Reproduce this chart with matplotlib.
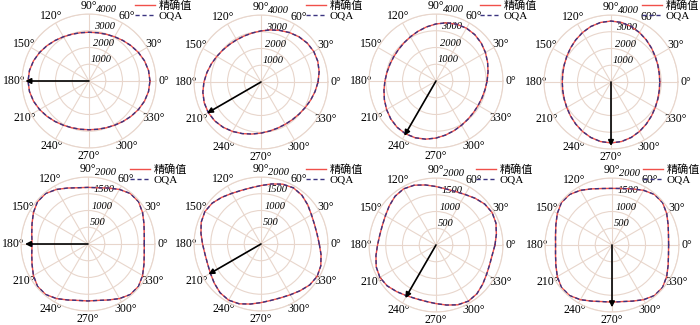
import numpy as np
import matplotlib
matplotlib.use("Agg")
import matplotlib.pyplot as plt

plt.rcParams["font.family"] = ["Liberation Serif", "Noto Sans CJK SC"]
plt.rcParams["axes.unicode_minus"] = False

# polar samples every 10 deg (0..350)
theta_deg = np.arange(0, 360, 10)

# top row (rmax 4000): elongated along the arrow direction
r_exact_a = [3640, 3609, 3525, 3407, 3278, 3155, 3051, 2973, 2926, 2910, 2926, 2973,
             3051, 3155, 3278, 3407, 3525, 3609, 3640, 3609, 3525, 3407, 3278, 3155,
             3051, 2973, 2926, 2910, 2926, 2973, 3051, 3155, 3278, 3407, 3525, 3609]
r_exact_b = [3407, 3525, 3609, 3640, 3609, 3525, 3407, 3278, 3155, 3051, 2973, 2926,
             2910, 2926, 2973, 3051, 3155, 3278, 3407, 3525, 3609, 3640, 3609, 3525,
             3407, 3278, 3155, 3051, 2973, 2926, 2910, 2926, 2973, 3051, 3155, 3278]
r_exact_c = [3051, 3155, 3278, 3407, 3525, 3609, 3640, 3609, 3525, 3407, 3278, 3155,
             3051, 2973, 2926, 2910, 2926, 2973, 3051, 3155, 3278, 3407, 3525, 3609,
             3640, 3609, 3525, 3407, 3278, 3155, 3051, 2973, 2926, 2910, 2926, 2973]
r_exact_d = [2910, 2926, 2973, 3051, 3155, 3278, 3407, 3525, 3609, 3640, 3609, 3525,
             3407, 3278, 3155, 3051, 2973, 2926, 2910, 2926, 2973, 3051, 3155, 3278,
             3407, 3525, 3609, 3640, 3609, 3525, 3407, 3278, 3155, 3051, 2973, 2926]

# bottom row (rmax 2000): rounded squares
r_exact_e = [1680, 1705, 1778, 1881, 1967, 1967, 1881, 1778, 1705, 1690, 1705, 1778,
             1881, 1967, 1967, 1881, 1778, 1705, 1670, 1705, 1778, 1881, 1967, 1967,
             1881, 1778, 1710, 1700, 1710, 1778, 1881, 1967, 1967, 1881, 1778, 1705]
r_exact_f = [1740, 1700, 1700, 1740, 1820, 1900, 1935, 1900, 1820, 1745, 1705, 1705,
             1745, 1820, 1900, 1935, 1900, 1820, 1745, 1700, 1700, 1745, 1820, 1900,
             1935, 1900, 1820, 1750, 1710, 1710, 1750, 1820, 1900, 1935, 1900, 1820]
r_exact_g = [1760, 1830, 1905, 1935, 1900, 1820, 1740, 1700, 1700, 1745, 1820, 1900,
             1935, 1900, 1820, 1745, 1705, 1705, 1745, 1820, 1900, 1935, 1900, 1820,
             1750, 1710, 1710, 1750, 1820, 1900, 1935, 1900, 1820, 1745, 1705, 1705]
r_exact_h = [1690, 1712, 1783, 1885, 1970, 1970, 1885, 1783, 1712, 1690, 1712, 1783,
             1885, 1970, 1970, 1885, 1783, 1712, 1685, 1712, 1783, 1885, 1970, 1970,
             1885, 1783, 1715, 1705, 1715, 1783, 1885, 1970, 1970, 1885, 1783, 1712]

# OQA overlays the exact curve
r_oqa_a, r_oqa_b, r_oqa_c, r_oqa_d = r_exact_a, r_exact_b, r_exact_c, r_exact_d
r_oqa_e, r_oqa_f, r_oqa_g, r_oqa_h = r_exact_e, r_exact_f, r_exact_g, r_exact_h

arrow_angle = [180, 210, 240, 270, 180, 210, 240, 270]
arrow_len = [3800, 3720, 3780, 3820, 1880, 1810, 1830, 1860]

rticks_top = [1000, 2000, 3000, 4000]
rticks_bot = [500, 1000, 1500, 2000]

exact_all = [r_exact_a, r_exact_b, r_exact_c, r_exact_d,
             r_exact_e, r_exact_f, r_exact_g, r_exact_h]
oqa_all = [r_oqa_a, r_oqa_b, r_oqa_c, r_oqa_d,
           r_oqa_e, r_oqa_f, r_oqa_g, r_oqa_h]

W, H = 700, 325
R = 67
centers = [(89, 81), (261, 82), (436, 81), (611, 82),
           (88, 244), (261, 244), (436, 245), (612, 245)]
legend_at = [(135, 0), (306, 0), (480, 0), (642, 0),
             (130, 164), (306, 164), (476, 164), (643, 164)]

grid_col = "#e8d6cc"
red = "#f0504a"
navy = "#3b3480"

fig = plt.figure(figsize=(7, 3.25), dpi=100)

for i in range(8):
    cx, cy = centers[i]
    ax = fig.add_axes([(cx - R) / W, 1 - (cy + R) / H, 2 * R / W, 2 * R / H],
                      projection="polar")
    th = np.deg2rad(np.append(theta_deg, theta_deg[0]))
    ex = np.append(exact_all[i], exact_all[i][0])
    oq = np.append(oqa_all[i], oqa_all[i][0])
    ax.plot(th, ex, color=red, lw=1.0, label="精确值")
    ax.plot(th, oq, color=navy, lw=1.0, ls=(0, (3, 2)), label="OQA")

    ticks = rticks_top if i < 4 else rticks_bot
    ax.set_rlim(0, ticks[-1])
    ax.set_rticks(ticks)
    ax.set_yticklabels([str(t) for t in ticks], fontsize=7.5, style="italic")
    ax.set_rlabel_position(84)
    ax.set_thetagrids(range(0, 360, 30),
                      labels=[f"{a}°" for a in range(0, 360, 30)], fontsize=8.5)
    ax.tick_params(axis="x", pad=-5)
    ax.grid(True, color=grid_col, lw=0.8)
    ax.spines["polar"].set_color(grid_col)
    ax.spines["polar"].set_linewidth(0.8)

    ax.annotate("", xy=(np.deg2rad(arrow_angle[i]), arrow_len[i]), xytext=(0, 0),
                arrowprops=dict(arrowstyle="-|>", color="black", lw=1.2,
                                mutation_scale=8, shrinkA=0, shrinkB=0))

    lx, ly = legend_at[i]
    ax.legend(loc="upper left", bbox_to_anchor=(lx / W, 1 - ly / H),
              bbox_transform=fig.transFigure, frameon=False, fontsize=8,
              borderpad=0, borderaxespad=0, handlelength=1.8, handletextpad=0.3,
              labelspacing=0.0)

fig.savefig("out.png", dpi=100)
